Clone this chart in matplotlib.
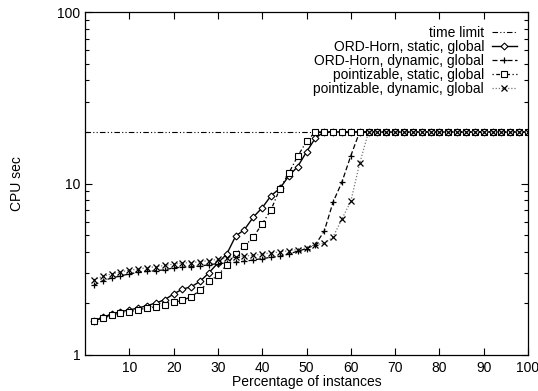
import matplotlib.pyplot as plt
from matplotlib.ticker import LogLocator, NullFormatter, FixedLocator

plt.rcParams['font.family'] = ['Liberation Sans', 'DejaVu Sans']

# percentage of instances (x)
pct = list(range(2, 101, 2))
time_limit = 20

# CPU sec for each configuration
ord_static = [1.58, 1.66, 1.73, 1.79, 1.83, 1.88, 1.94, 2.01, 2.10, 2.27,
              2.42, 2.50, 2.69, 3.02, 3.44, 3.88, 4.93, 5.39, 6.37, 7.22,
              8.49, 9.37, 11.06, 12.54, 15.28, 18.4] + [20] * 24
ord_dynamic = [2.55, 2.71, 2.81, 2.89, 2.97, 3.03, 3.07, 3.10, 3.14, 3.22,
               3.25, 3.27, 3.30, 3.36, 3.41, 3.44, 3.47, 3.52, 3.58, 3.65,
               3.71, 3.76, 3.88, 4.03, 4.17, 4.40, 5.27, 7.79, 10.2, 14.5] + [20] * 20
pt_static = [1.58, 1.64, 1.72, 1.75, 1.79, 1.83, 1.88, 1.91, 1.96, 2.03,
             2.08, 2.19, 2.38, 2.69, 2.91, 3.36, 3.90, 4.31, 4.87, 5.82,
             7.03, 9.34, 11.5, 14.4, 17.6] + [20] * 25
pt_dynamic = [2.75, 2.87, 2.97, 3.05, 3.12, 3.17, 3.23, 3.27, 3.33, 3.39,
              3.44, 3.46, 3.50, 3.55, 3.61, 3.68, 3.73, 3.78, 3.81, 3.88,
              3.94, 3.99, 4.06, 4.12, 4.21, 4.40, 4.47, 4.88, 6.22, 7.87,
              13.1] + [20] * 19

labels = ['time limit', 'ORD-Horn, static, global', 'ORD-Horn, dynamic, global',
          'pointizable, static, global', 'pointizable, dynamic, global']

fig = plt.figure(figsize=(5.38, 3.91), dpi=100)
ax = fig.add_axes([85 / 538, 1 - 355 / 391, (528 - 85) / 538, (355 - 12) / 391])

ax.plot([0, 100], [time_limit, time_limit], color='black', lw=0.8,
        ls=(0, (5, 2, 1, 2, 1, 2)), label=labels[0])
ax.plot(pct, ord_static, color='black', lw=1.0, ls='-', marker='D', ms=3.5,
        mfc='white', mec='black', mew=0.8, label=labels[1])
ax.plot(pct, ord_dynamic, color='black', lw=0.9, ls=(0, (4, 2)), marker='+',
        ms=5, mew=0.9, label=labels[2])
ax.plot(pct, pt_static, color='black', lw=0.9, ls=(0, (1, 2, 3, 2)), marker='s',
        ms=4.5, mfc='white', mec='black', mew=0.8, label=labels[3])
ax.plot(pct, pt_dynamic, color='#777777', lw=0.9, ls=(0, (1, 1.5)), marker='x',
        ms=4.5, mec='black', mew=0.9, label=labels[4])

ax.set_yscale('log')
ax.set_ylim(1, 100)
ax.set_xlim(0, 100)
ax.xaxis.set_major_locator(FixedLocator(range(10, 101, 10)))
ax.yaxis.set_major_locator(FixedLocator([1, 10, 100]))
ax.set_yticklabels(['1', '10', '100'])
ax.yaxis.set_minor_locator(LogLocator(base=10, subs=range(2, 10)))
ax.yaxis.set_minor_formatter(NullFormatter())
ax.tick_params(which='both', direction='in', top=True, right=True,
               labelsize=10, width=0.8)
ax.tick_params(which='major', length=5)
ax.tick_params(which='minor', length=3)
ax.tick_params(axis='x', pad=4)
for s in ax.spines.values():
    s.set_linewidth(0.9)

ax.set_xlabel('Percentage of instances', fontsize=10, labelpad=0)
ax.set_ylabel('CPU sec', fontsize=10, labelpad=24)

ax.legend(loc='upper right', frameon=False, markerfirst=False, fontsize=10,
          handlelength=1.8, labelspacing=0.0, borderaxespad=0.0,
          handletextpad=0.55, bbox_to_anchor=(0.987, 0.975))

fig.savefig('out.png', dpi=100)
